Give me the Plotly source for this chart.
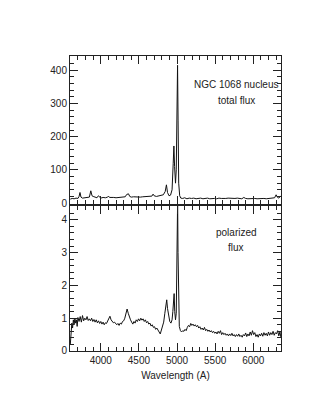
import plotly.graph_objects as go

# total flux spectrum (wavelength in Angstrom, flux)
wl_total = [3600, 3625, 3650, 3675, 3700, 3715, 3727, 3740, 3760, 3780, 3800, 3825, 3850, 3869,
            3885, 3900, 3925, 3950, 3968, 3985, 4000, 4030, 4060, 4090, 4101, 4115, 4140, 4170,
            4200, 4230, 4260, 4290, 4320, 4340, 4363, 4380, 4400, 4430, 4460, 4490, 4520, 4550,
            4580, 4610, 4640, 4670, 4686, 4700, 4730, 4760, 4790, 4820, 4845, 4861, 4875, 4895,
            4915, 4935, 4950, 4959, 4968, 4980, 4990, 5000, 5007, 5014, 5022, 5035, 5050, 5075,
            5100, 5130, 5160, 5190, 5220, 5250, 5280, 5310, 5340, 5370, 5400, 5430, 5460, 5490,
            5520, 5550, 5580, 5610, 5640, 5670, 5700, 5730, 5760, 5790, 5820, 5850, 5876, 5900,
            5930, 5960, 5990, 6020, 6050, 6080, 6110, 6140, 6170, 6200, 6230, 6260, 6280, 6300,
            6315, 6335, 6363]
flux_total = [12, 14, 13, 15, 14, 20, 32, 18, 15, 16, 15, 16, 18, 37,
              22, 20, 17, 16, 22, 17, 15, 17, 16, 18, 21, 17, 16, 17,
              16, 17, 18, 17, 19, 26, 28, 20, 18, 19, 18, 19, 18, 19,
              20, 19, 20, 21, 27, 22, 20, 21, 22, 25, 35, 55, 32, 22,
              24, 40, 120, 172, 110, 60, 100, 300, 415, 250, 60, 22, 15, 14,
              16, 13, 15, 14, 15, 13, 14, 15, 13, 14, 15, 13, 14, 14,
              13, 15, 14, 13, 14, 15, 14, 13, 14, 15, 14, 13, 17, 14,
              13, 14, 15, 14, 13, 14, 15, 14, 13, 14, 15, 14, 16, 25,
              18, 15, 22]

# polarized flux spectrum
wl_pol = [3600, 3610, 3620, 3630, 3640, 3650, 3660, 3670, 3680, 3690, 3700, 3715, 3730, 3745,
          3760, 3775, 3790, 3805, 3820, 3835, 3850, 3865, 3880, 3895, 3910, 3925, 3940, 3955,
          3970, 3985, 4000, 4015, 4030, 4045, 4060, 4075, 4090, 4105, 4120, 4135, 4150, 4165,
          4180, 4195, 4210, 4225, 4240, 4255, 4270, 4285, 4300, 4315, 4330, 4345, 4360, 4375,
          4390, 4405, 4420, 4435, 4450, 4465, 4480, 4495, 4510, 4525, 4540, 4555, 4570, 4585,
          4600, 4615, 4630, 4645, 4660, 4675, 4690, 4705, 4720, 4735, 4750, 4765, 4780, 4795,
          4810, 4825, 4840, 4855, 4865, 4875, 4890, 4905, 4920, 4935, 4945, 4955, 4962, 4970,
          4980, 4990, 4998, 5004, 5008, 5013, 5020, 5030, 5045, 5060, 5075, 5090, 5105, 5120,
          5135, 5150, 5165, 5180, 5195, 5210, 5225, 5240, 5255, 5270, 5285, 5300, 5315, 5330,
          5345, 5360, 5375, 5390, 5405, 5420, 5435, 5450, 5465, 5480, 5495, 5510, 5525, 5540,
          5555, 5570, 5585, 5600, 5615, 5630, 5645, 5660, 5675, 5690, 5705, 5720, 5735, 5750,
          5765, 5780, 5795, 5810, 5825, 5840, 5855, 5870, 5885, 5900, 5915, 5930, 5945, 5960,
          5975, 5990, 6005, 6020, 6035, 6050, 6065, 6080, 6095, 6110, 6125, 6140, 6155, 6170,
          6185, 6200, 6215, 6230, 6245, 6260, 6275, 6290, 6305, 6320, 6335, 6350, 6363]
flux_pol = [0.20, 0.55, 0.85, 0.70, 0.95, 0.80, 1.00, 0.85, 0.95, 0.75, 1.02, 0.90, 1.05, 0.88,
            1.08, 0.92, 1.00, 0.95, 1.05, 0.93, 0.98, 0.92, 1.00, 0.90, 0.96, 0.88, 0.95, 0.86,
            0.92, 0.84, 0.90, 0.82, 0.88, 0.80, 0.86, 0.84, 0.92, 0.98, 1.06, 0.95, 0.90, 0.86,
            0.88, 0.82, 0.80, 0.84, 0.78, 0.85, 0.82, 0.90, 0.92, 1.00, 1.12, 1.28, 1.15, 1.02,
            0.95, 0.88, 0.82, 0.90, 0.85, 0.95, 0.90, 0.98, 0.92, 1.00, 0.94, 0.98, 0.90, 0.95,
            0.86, 0.90, 0.82, 0.85, 0.76, 0.80, 0.72, 0.74, 0.66, 0.70, 0.62, 0.58, 0.52, 0.64,
            0.70, 0.88, 1.15, 1.45, 1.56, 1.30, 1.05, 0.90, 0.85, 0.95, 1.20, 1.60, 1.75, 1.20,
            0.95, 1.15, 2.60, 4.20, 4.60, 3.00, 1.20, 0.75, 0.62, 0.58, 0.62, 0.60, 0.66, 0.62,
            0.72, 0.78, 0.74, 0.84, 0.78, 0.82, 0.76, 0.80, 0.74, 0.78, 0.70, 0.74, 0.66, 0.70,
            0.64, 0.72, 0.62, 0.66, 0.60, 0.64, 0.58, 0.62, 0.56, 0.60, 0.54, 0.58, 0.52, 0.60,
            0.54, 0.62, 0.50, 0.56, 0.50, 0.54, 0.48, 0.52, 0.46, 0.52, 0.47, 0.54, 0.46, 0.50,
            0.44, 0.50, 0.45, 0.52, 0.44, 0.48, 0.42, 0.50, 0.46, 0.55, 0.44, 0.52, 0.46, 0.58,
            0.48, 0.62, 0.50, 0.56, 0.44, 0.50, 0.42, 0.52, 0.46, 0.54, 0.45, 0.56, 0.48, 0.54,
            0.46, 0.58, 0.48, 0.56, 0.50, 0.60, 0.48, 0.56, 0.52, 0.62, 0.46, 0.58, 0.42]

font = dict(family="Liberation Sans, Arial, sans-serif", size=10, color="#222")
line_style = dict(color="#111", width=1)

fig = go.Figure()
fig.add_trace(go.Scatter(x=wl_total, y=flux_total, mode="lines", line=line_style,
                         xaxis="x", yaxis="y"))
fig.add_trace(go.Scatter(x=wl_pol, y=flux_pol, mode="lines", line=line_style,
                         xaxis="x2", yaxis="y2"))

ax_common = dict(showline=True, linecolor="#222", linewidth=1, mirror="ticks",
                 ticks="inside", ticklen=8, tickcolor="#222", showgrid=False,
                 zeroline=False, tickfont=font)
minor_style = dict(ticks="inside", ticklen=4, tickcolor="#222")

fig.update_layout(
    width=321, height=415,
    margin=dict(l=62, r=48, t=48, b=72),
    paper_bgcolor="white", plot_bgcolor="white",
    showlegend=False,
    font=font,
    xaxis=dict(**ax_common, range=[3596, 6364], domain=[0, 1], anchor="y",
               dtick=500, tick0=4000, showticklabels=False,
               minor=dict(dtick=100, **minor_style)),
    yaxis=dict(**ax_common, range=[-3, 443], domain=[0.498, 1], anchor="x",
               dtick=100, tick0=0,
               minor=dict(dtick=20, **minor_style)),
    xaxis2=dict(**ax_common, range=[3596, 6364], domain=[0, 1], anchor="y2",
                dtick=500, tick0=4000,
                minor=dict(dtick=100, **minor_style),
                title=dict(text="Wavelength (A)", font=font, standoff=6)),
    yaxis2=dict(**ax_common, range=[0, 4.42], domain=[0, 0.4915], anchor="x2",
                dtick=1, tick0=0,
                minor=dict(dtick=0.2, **minor_style)),
    annotations=[
        dict(text="NGC 1068 nucleus", x=5780, y=356, xref="x", yref="y",
             showarrow=False, font=font),
        dict(text="total flux", x=5780, y=308, xref="x", yref="y",
             showarrow=False, font=font),
        dict(text="polarized", x=5780, y=3.6, xref="x2", yref="y2",
             showarrow=False, font=font),
        dict(text="flux", x=5780, y=3.14, xref="x2", yref="y2",
             showarrow=False, font=font),
    ],
)

fig.write_html("out.html")
